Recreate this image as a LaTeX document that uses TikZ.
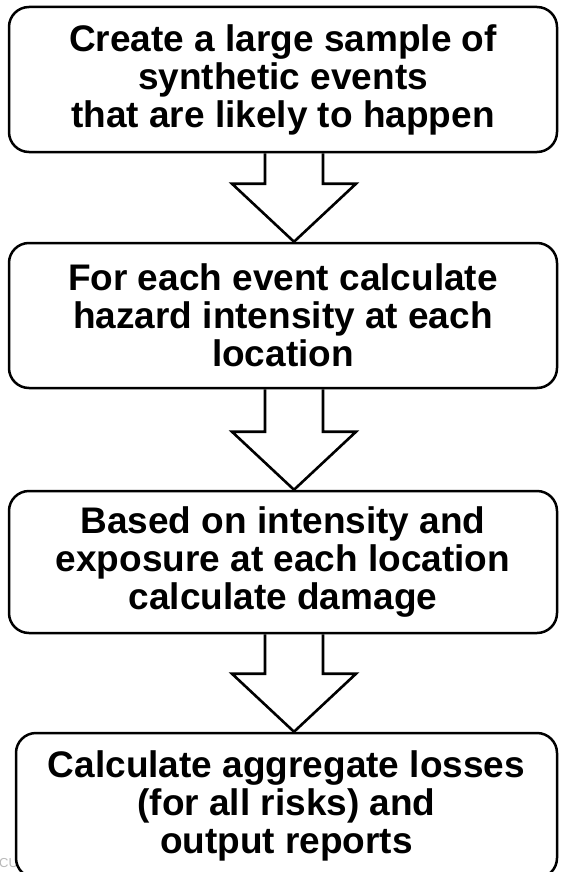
\documentclass[tikz,border=0pt]{standalone}
\usepackage{fontspec}
\setmainfont{Liberation Sans}
\usetikzlibrary{calc, positioning}

\tikzset{
    stepbox/.style={draw, line width=2.5pt, rounded corners=20pt, fill=white,
        align=center, inner sep=0pt, minimum width=548pt, minimum height=145pt,
        font=\fontsize{37}{38}\selectfont\bfseries},
    bigarrow/.style={draw, line width=2.6pt, line join=miter}
}
% hollow block arrow between two boxes
\newcommand{\hollowarrow}[2]{%
    \coordinate (#1-top) at ($(#1.south)+(11,0)$);
    \coordinate (#2-neck) at ($(#2.north)+(0,-58)$);
    \draw[bigarrow] ($(#1-top)+(-29,0)$) -- ($(#1-top |- #2-neck)+(-29,0)$)
        -- ($(#1-top |- #2-neck)+(-62,0)$) -- (#1-top |- #2.north)
        -- ($(#1-top |- #2-neck)+(62,0)$) -- ($(#1-top |- #2-neck)+(29,0)$)
        -- ($(#1-top)+(29,0)$);
}

\begin{document}
\begin{tikzpicture}[x=1pt, y=-1pt]
    \useasboundingbox (0,0) rectangle (560,872);

    % fragment at the lower left
    \node[anchor=north west, inner sep=0pt, text=gray!55, font=\fontsize{13}{13}\selectfont] (cu) at (-1,858) {CU};

    % Các bước
    \node[stepbox] (gen) at (283,79.5) {Create a large sample of\\synthetic events\\that are likely to happen};
    \node[stepbox] (haz) at (283,315.5) {For each event calculate\\hazard intensity at each\\location};
    \node[stepbox, minimum height=142pt] (dmg) at (283,562) {Based on intensity and\\exposure at each location\\calculate damage};
    \node[stepbox, minimum width=541pt] (loss) at (286.5,805.5) {Calculate aggregate losses\\(for all risks) and\\output reports};

    % Mũi tên
    \hollowarrow{gen}{haz}
    \hollowarrow{haz}{dmg}
    \hollowarrow{dmg}{loss}
\end{tikzpicture}
\end{document}
